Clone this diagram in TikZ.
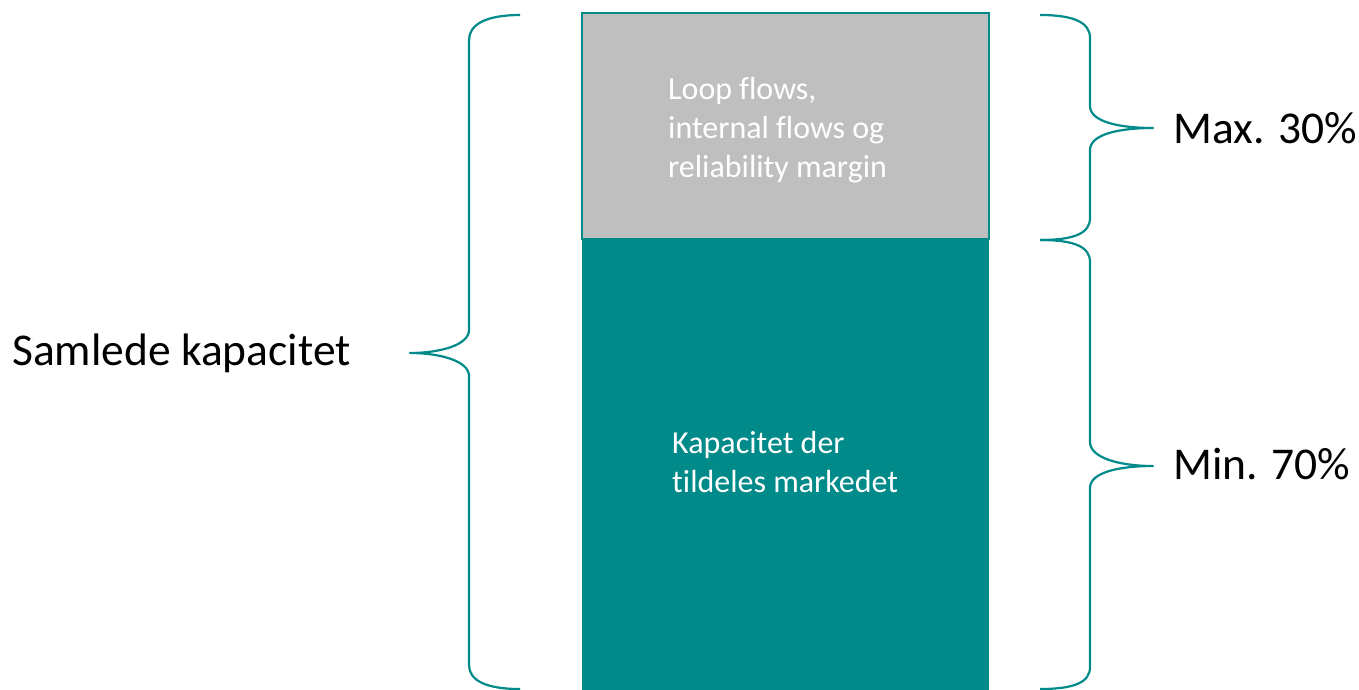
\documentclass[tikz,border=0pt]{standalone}
\usepackage{fontspec}
\setmainfont{Carlito}[Ligatures=NoCommon]
\definecolor{teal}{RGB}{0,138,137}
\definecolor{bargray}{RGB}{191,191,191}
\tikzset{
  brace/.style={draw=teal,line width=2.2pt,line join=round},
  bigtext/.style={font=\fontsize{45.5}{50}\selectfont,inner sep=0pt},
  bartext/.style={font=\fontsize{32}{39}\selectfont,text=white,inner sep=0pt,align=left}
}

\begin{document}
\begin{tikzpicture}[x=1pt,y=-1pt]
  \useasboundingbox (0,0) rectangle (1359,689);
  \clip (0,0) rectangle (1359,689);

  % Bar
  \fill [teal] (582,239) rectangle (989,700);
  \draw [fill=bargray,draw=teal,line width=1.5pt] (582,13) rectangle (989,239);

  % Texts in the bar
  \node [bartext,anchor=base west] (top) at (668,177) {Loop flows,\\internal flows og\\reliability margin};
  \node [bartext,anchor=base west] (bottom) at (672,492) {Kapacitet der\\tildeles markedet};

  % Left brace
  \draw [brace] (520,15) .. controls (485,15) and (469,25) .. (469,40)
    -- (469,330) .. controls (469,345) and (440,353) .. (410,353)
    .. controls (440,353) and (469,361) .. (469,376)
    -- (469,665) .. controls (469,680) and (485,689) .. (520,689);
  \node [bigtext,anchor=base west] (total) at (12,365) {Samlede kapacitet};

  % Right braces
  \draw [brace] (1040,15) .. controls (1075,15) and (1090,23) .. (1090,38)
    -- (1090,106) .. controls (1090,122) and (1120,128) .. (1153,128)
    .. controls (1120,128) and (1090,134) .. (1090,150)
    -- (1090,218) .. controls (1090,233) and (1075,240) .. (1040,240);
  \draw [brace] (1040,240) .. controls (1075,240) and (1090,247) .. (1090,262)
    -- (1090,442) .. controls (1090,458) and (1120,466) .. (1153,466)
    .. controls (1120,466) and (1090,472) .. (1090,488)
    -- (1090,667) .. controls (1090,682) and (1075,689) .. (1040,689);
  \node [bigtext,anchor=base west] (max) at (1173,143) {Max. 30\%};
  \node [bigtext,anchor=base west] (min) at (1173,479) {Min. 70\%};
\end{tikzpicture}
\end{document}
